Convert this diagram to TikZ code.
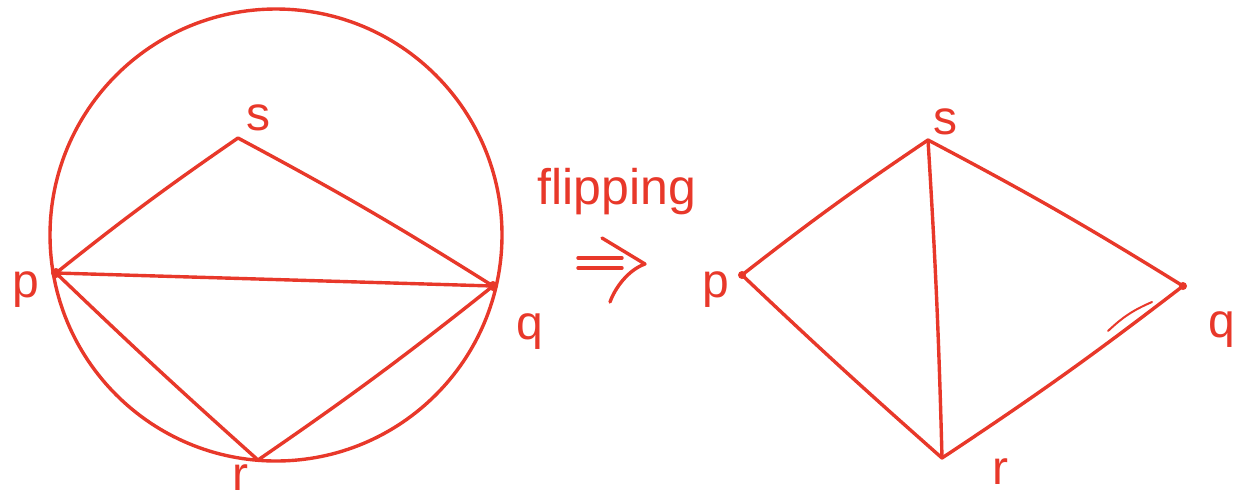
\documentclass[tikz,border=0pt]{standalone}
\usepackage{fontspec}
\setmainfont{Liberation Sans}
\definecolor{pen}{HTML}{E8382A}
\begin{document}
\begin{tikzpicture}[x=0.5pt,y=-0.5pt,
  ink/.style={draw=pen,line width=1.7pt,line cap=round,line join=round},
  lbl/.style={text=pen,font=\fontsize{24}{24}\selectfont,inner sep=0pt},
  dotv/.style={fill=pen,circle,inner sep=0pt,minimum size=5pt}]
\useasboundingbox (0,0) rectangle (1251,499);
% left figure
\coordinate (c) at (276,235);
\node[dotv] (p1) at (56,273) {};
\node[dotv] (q1) at (493,286) {};
\coordinate (s1) at (238,138);
\coordinate (r1) at (258,460);
\draw[ink] (c) circle[radius=113pt];
\draw[ink] (p1.center) to[bend left=2] (s1) to[bend left=2] (q1.center);
\draw[ink] (p1.center) -- (q1.center);
\draw[ink] (p1.center) to[bend right=1] (r1) to[bend right=2] (q1.center);
\node[lbl] (lp1) at (26,290) {p};
\node[lbl] (lq1) at (530,332) {q};
\node[lbl] (ls1) at (258,118) {s};
\node[lbl] (lr1) at (240,478) {r};
% arrow
\node[text=pen,font=\fontsize{25}{25}\selectfont,inner sep=0pt] (flip) at (617,192) {flipping};
\coordinate (a1) at (578,258);
\coordinate (a2) at (622,258);
\coordinate (a3) at (578,268);
\coordinate (a4) at (622,268);
\coordinate (h1) at (602,238);
\coordinate (h2) at (645,264);
\coordinate (h3) at (610,302);
\draw[ink] (a1) -- (a2);
\draw[ink] (a3) -- (a4);
\draw[ink] (h1) -- (h2) .. controls (628,270) and (615,288) .. (h3);
% right figure
\node[dotv,minimum size=4pt] (p2) at (742,275) {};
\node[dotv,minimum size=4pt] (q2) at (1183,286) {};
\coordinate (s2) at (928,140);
\coordinate (r2) at (942,458);
\draw[ink] (p2.center) to[bend left=2] (s2) to[bend left=2] (q2.center);
\draw[ink] (s2) to[bend left=1] (r2);
\draw[ink] (p2.center) to[bend right=1] (r2) to[bend right=2] (q2.center);
\coordinate (d1) at (1108,331);
\coordinate (d2) at (1152,302);
\draw[ink,line width=1pt] (d1) to[bend left=10] (d2);
\node[lbl] (lp2) at (716,290) {p};
\node[lbl] (lq2) at (1222,330) {q};
\node[lbl] (ls2) at (945,122) {s};
\node[lbl] (lr2) at (1000,472) {r};
\end{tikzpicture}
\end{document}
